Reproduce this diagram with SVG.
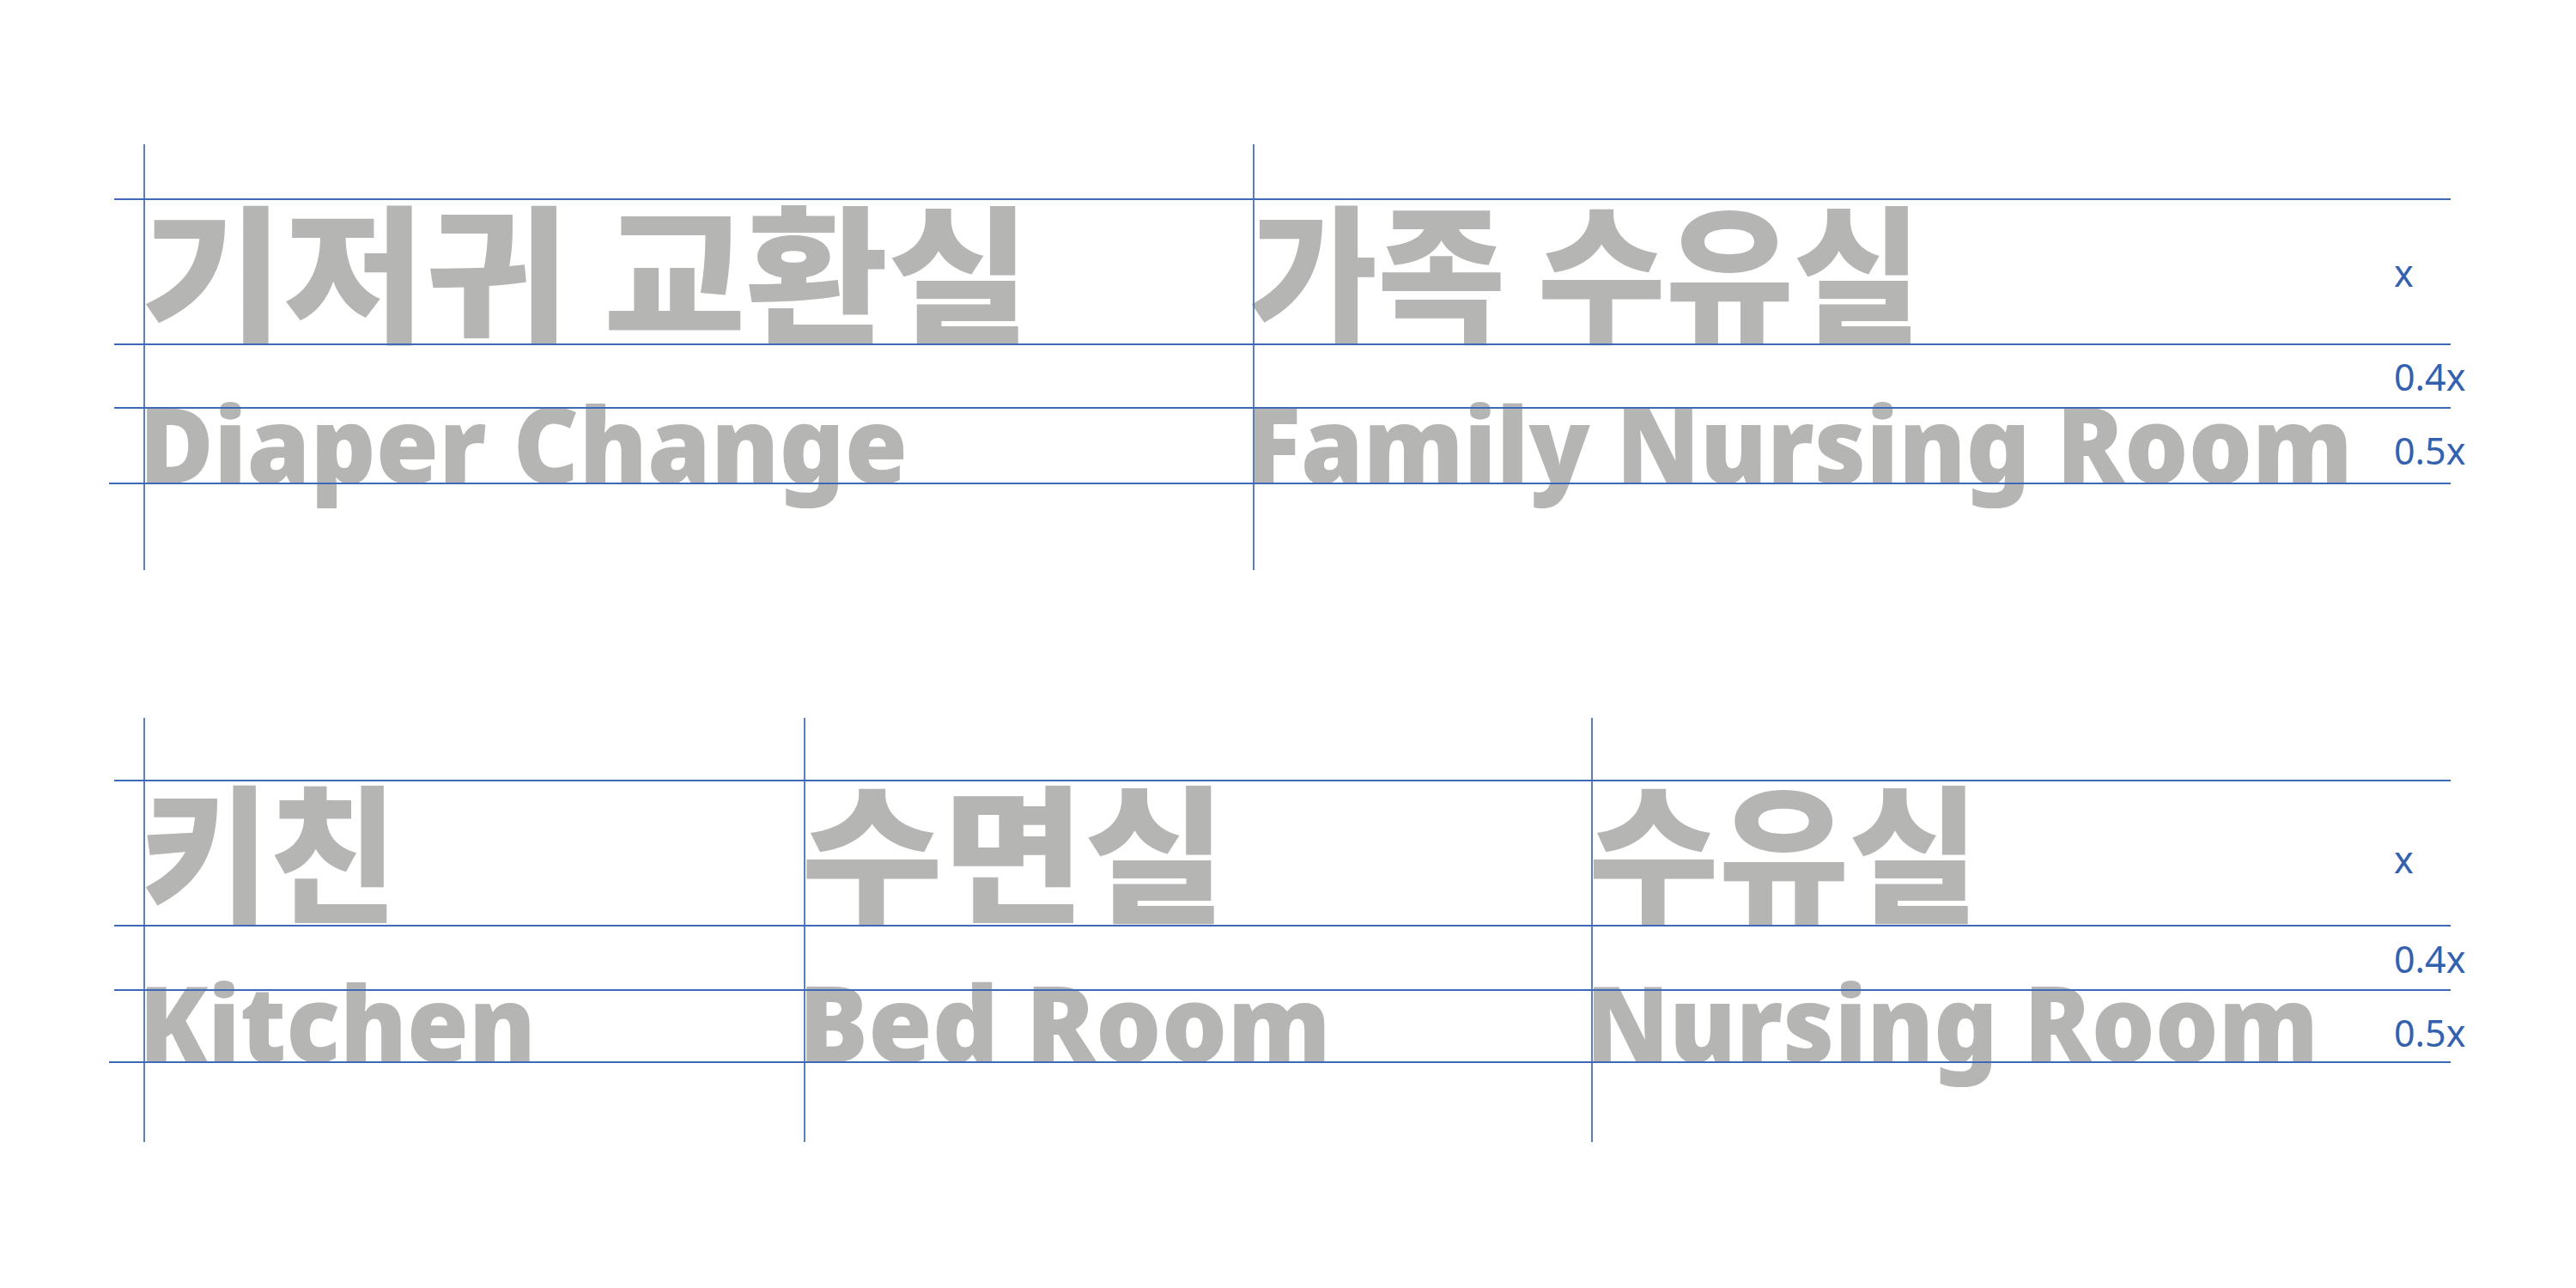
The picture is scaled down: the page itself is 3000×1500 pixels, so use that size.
<svg xmlns="http://www.w3.org/2000/svg" width="3000" height="1500" viewBox="0 0 3000 1500">
<style>
.ko{font-family:"Noto Sans CJK KR","Noto Sans",sans-serif;font-weight:900;font-size:172px;fill:#b5b5b4}
.en{font-family:"Noto Sans","Inter",sans-serif;font-weight:900;font-size:122px;fill:#b5b5b4}
.lab{font-family:"Noto Sans","Open Sans",sans-serif;font-weight:400;font-size:43px;fill:#3461ad}
.h{stroke:#3e68b8;stroke-width:2.2;fill:none}
.v{stroke:#3e68b8;stroke-width:1.7;fill:none}
</style>
<rect width="3000" height="1500" fill="#ffffff"/>
<g id="diaper-change">
<text class="ko" x="164" y="385" textLength="1036" lengthAdjust="spacingAndGlyphs">기저귀 교환실</text>
<text class="en" x="162" y="563" textLength="895" lengthAdjust="spacingAndGlyphs">Diaper Change</text>
</g>
<g id="family-nursing-room">
<text class="ko" x="1455" y="385" textLength="783" lengthAdjust="spacingAndGlyphs">가족 수유실</text>
<text class="en" x="1452" y="563" textLength="1288" lengthAdjust="spacingAndGlyphs">Family Nursing Room</text>
</g>
<g id="kitchen">
<text class="ko" x="164" y="1060" textLength="299" lengthAdjust="spacingAndGlyphs">키친</text>
<text class="en" x="162" y="1237" textLength="462" lengthAdjust="spacingAndGlyphs">Kitchen</text>
</g>
<g id="bed-room">
<text class="ko" x="933" y="1060" textLength="495" lengthAdjust="spacingAndGlyphs">수면실</text>
<text class="en" x="930" y="1237" textLength="620" lengthAdjust="spacingAndGlyphs">Bed Room</text>
</g>
<g id="nursing-room">
<text class="ko" x="1850" y="1060" textLength="455" lengthAdjust="spacingAndGlyphs">수유실</text>
<text class="en" x="1847" y="1237" textLength="853" lengthAdjust="spacingAndGlyphs">Nursing Room</text>
</g>
<g id="scale-labels">
<text class="lab" x="2788" y="334">x</text>
<text class="lab" x="2788" y="455">0.4x</text>
<text class="lab" x="2788" y="541">0.5x</text>
<text class="lab" x="2788" y="1017">x</text>
<text class="lab" x="2788" y="1133">0.4x</text>
<text class="lab" x="2788" y="1219">0.5x</text>
</g>
<g id="guides">
<line class="v" x1="168" y1="168" x2="168" y2="664"/>
<line class="v" x1="1460" y1="168" x2="1460" y2="664"/>
<line class="h" x1="133" y1="232" x2="2854" y2="232"/>
<line class="h" x1="133" y1="401" x2="2854" y2="401"/>
<line class="h" x1="133" y1="475" x2="2854" y2="475"/>
<line class="h" x1="127" y1="563" x2="2854" y2="563"/>
<line class="v" x1="168" y1="836" x2="168" y2="1330"/>
<line class="v" x1="937" y1="836" x2="937" y2="1330"/>
<line class="v" x1="1854" y1="836" x2="1854" y2="1330"/>
<line class="h" x1="133" y1="909" x2="2854" y2="909"/>
<line class="h" x1="133" y1="1078" x2="2854" y2="1078"/>
<line class="h" x1="133" y1="1153" x2="2854" y2="1153"/>
<line class="h" x1="127" y1="1237" x2="2854" y2="1237"/>
</g>
</svg>
